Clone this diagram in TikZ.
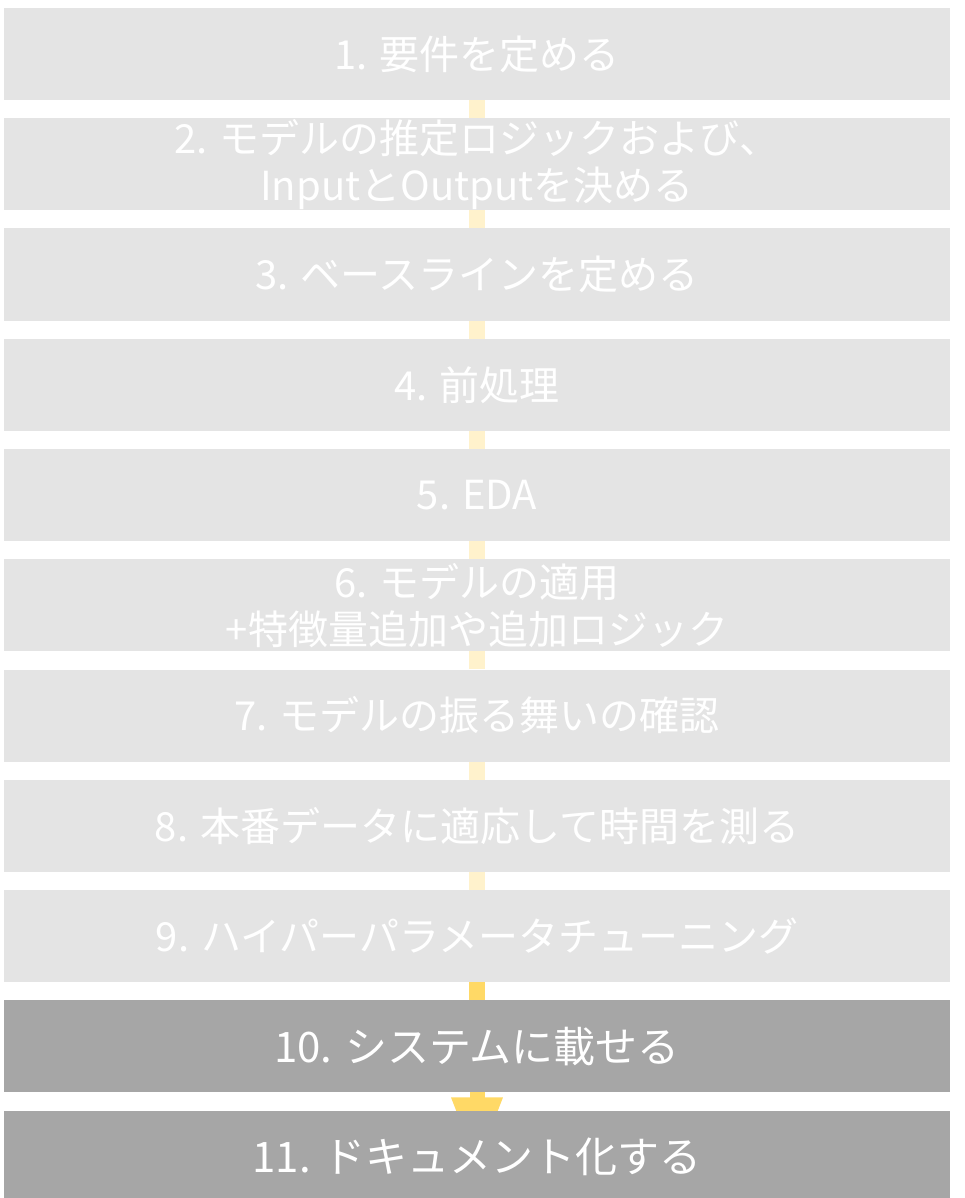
\documentclass[tikz,border=0pt]{standalone}
\usepackage{fontspec}
\setmainfont{Noto Sans CJK JP}
\usetikzlibrary{arrows.meta,calc}
\pgfdeclarelayer{background}
\pgfsetlayers{background,main}
\definecolor{boxlight}{HTML}{E4E4E4}
\definecolor{boxdark}{HTML}{A6A6A6}
\definecolor{barfaint}{HTML}{FFF2CC}
\definecolor{barstrong}{HTML}{FFD966}
\tikzset{
  stepbox/.style={fill=boxlight, text=white, inner sep=0pt, minimum width=946pt, minimum height=92pt, align=center, font=\fontsize{40pt}{47pt}\selectfont},
  darkbox/.style={stepbox, fill=boxdark, font=\fontsize{42pt}{50pt}\selectfont},
  fbar/.style={draw=barfaint, line width=16pt},
  sbar/.style={draw=barstrong, line width=16pt},
}
\begin{document}
\begin{tikzpicture}[x=1pt,y=1pt]
\clip (0,0) rectangle (964,-1198);
\node[stepbox] (b1) at (477,-54) {1. 要件を定める};
\node[stepbox] (b2) at (477,-164.25) {2. モデルの推定ロジックおよび、\\InputとOutputを決める};
\node[stepbox] (b3) at (477,-274.5) {3. ベースラインを定める};
\node[stepbox] (b4) at (477,-384.75) {4. 前処理};
\node[stepbox] (b5) at (477,-495) {5. EDA};
\node[stepbox] (b6) at (477,-605.25) {6. モデルの適用\\+特徴量追加や追加ロジック};
\node[stepbox] (b7) at (477,-715.5) {7. モデルの振る舞いの確認};
\node[stepbox] (b8) at (477,-825.75) {8. 本番データに適応して時間を測る};
\node[stepbox] (b9) at (477,-936) {9. ハイパーパラメータチューニング};
\node[darkbox] (b10) at (477,-1046.25) {10. システムに載せる};
\node[darkbox] (b11) at (477,-1156.5) {11. ドキュメント化する};
\coordinate (tip) at ($(b10.south)+(0,-74)$);
\begin{pgfonlayer}{background}
\fill[white] (0,0) rectangle (964,-1198);
\draw[fbar] (b1.south) -- (b2.north);
\draw[fbar] (b2.south) -- (b3.north);
\draw[fbar] (b3.south) -- (b4.north);
\draw[fbar] (b4.south) -- (b5.north);
\draw[fbar] (b5.south) -- (b6.north);
\draw[fbar] (b6.south) -- (b7.north);
\draw[fbar] (b7.south) -- (b8.north);
\draw[fbar] (b8.south) -- (b9.north);
\draw[sbar] (b9.south) -- (b10.north);
\draw[draw=barstrong, line width=15pt, -{Triangle[length=69pt,width=47pt,fill=barstrong]}] (b10.south) -- (tip);
\end{pgfonlayer}
\end{tikzpicture}
\end{document}
